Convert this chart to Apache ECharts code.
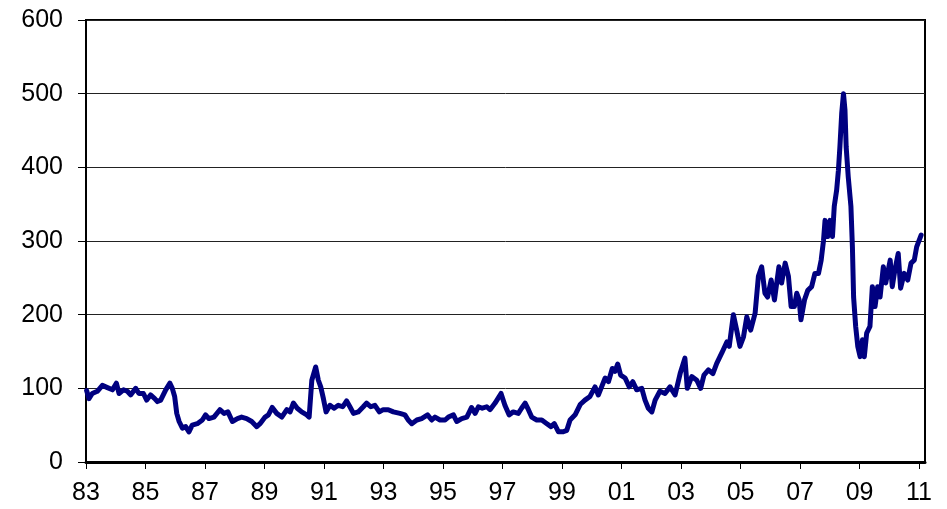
<!DOCTYPE html>
<html>
<head>
<meta charset="utf-8">
<script src="https://cdn.jsdelivr.net/npm/echarts@6/dist/echarts.min.js"></script>
<style>
html,body{margin:0;padding:0;background:#fff;}
#chart{width:947px;height:509px;}
</style>
</head>
<body>
<div id="chart"></div>
<script>
// x positions: years elapsed since the start of 1983
const yearsFrom1983 = [
0.02,0.10,0.21,0.38,0.55,0.72,0.89,1.02,1.11,1.26,1.39,1.50,1.67,1.78,1.93,2.04,2.17,2.31,2.40,2.51,2.68,2.82,2.90,2.98,3.05,3.13,3.24,3.35,3.46,3.57,3.74,3.91,4.02,4.13,4.30,4.50,4.64,4.77,4.92,5.09,
5.23,5.40,5.57,5.74,5.85,6.02,6.13,6.26,6.41,6.58,6.75,6.86,6.97,7.10,7.25,7.42,7.50,7.59,7.72,7.81,7.89,7.98,8.07,8.20,8.34,8.48,8.63,8.76,8.87,8.99,9.15,9.32,9.43,9.57,9.71,9.86,9.99,10.16,10.33,
10.55,10.72,10.83,10.95,11.12,11.28,11.48,11.62,11.73,11.90,12.07,12.18,12.35,12.46,12.63,12.80,12.96,13.08,13.19,13.32,13.47,13.58,13.75,13.95,14.08,14.22,14.36,14.53,14.64,14.76,14.87,14.98,15.15,15.32,15.49,15.63,15.74,15.88,16.04,16.16,16.27,16.44,
16.61,16.77,16.94,17.11,17.22,17.33,17.45,17.56,17.69,17.78,17.87,17.97,18.12,18.26,18.38,18.51,18.68,18.79,18.90,19.02,19.13,19.29,19.46,19.63,19.80,19.97,20.13,20.21,20.36,20.53,20.66,20.77,20.92,21.07,21.20,21.37,21.54,21.62,21.76,21.87,21.98,22.10,22.21,22.34,
22.49,22.60,22.71,22.82,22.91,23.03,23.14,23.29,23.38,23.50,23.61,23.70,23.81,23.89,23.97,24.03,24.15,24.26,24.39,24.50,24.62,24.71,24.79,24.84,24.93,25.01,25.09,25.15,25.23,25.29,25.34,25.40,25.46,25.51,25.55,25.62,25.71,25.76,25.80,25.87,25.94,26.02,26.10,26.16,26.24,26.35,26.43,26.52,26.61,26.69,26.80,26.88,27.03,27.10,27.19,27.30,27.38,27.50,27.62,27.73,27.84,27.92,28.07
];
const values = [
97,86,93,96,104,101,98,107,93,98,96,91,100,93,93,84,91,86,82,84,98,107,100,89,66,55,46,48,41,50,52,57,64,59,61,71,66,68,55,59,
61,59,55,48,52,61,64,74,66,61,71,68,80,73,68,64,61,111,129,111,102,86,68,77,73,77,75,83,75,66,68,75,80,75,77,68,71,71,68,
66,64,57,52,57,59,64,57,61,57,57,61,64,55,59,61,74,66,75,73,75,71,80,93,77,64,68,66,73,80,71,61,57,57,52,48,52,41,41,43,57,64,
78,84,89,102,91,102,114,109,127,123,133,118,114,102,109,98,100,84,73,68,84,96,93,102,91,120,141,100,116,111,100,118,125,120,134,148,163,157,200,179,157,170,197,179,
202,252,265,229,224,247,220,265,243,270,252,211,211,229,220,193,220,233,238,256,256,274,301,328,306,328,306,347,369,396,428,473,500,478,428,387,347,292,224,184,157,143,166,143,175,184,238,211,238,224,265,243,274,238,261,283,236,256,247,270,274,292,308
];
const xTickLabels = ['83','85','87','89','91','93','95','97','99','01','03','05','07','09','11'];
const yTickLabels = ['0','100','200','300','400','500','600'];

const chart = echarts.init(document.getElementById('chart'), null, {renderer: 'canvas'});
const seriesData = yearsFrom1983.map((t, i) => [t, values[i]]);
const font = 'Liberation Sans, Arial, sans-serif';

chart.setOption({
  animation: false,
  grid: {left: 86, right: 22, top: 20, bottom: 47, show: true, borderColor: '#000', borderWidth: 2, backgroundColor: '#fff'},
  xAxis: {
    type: 'value', min: 0, max: 28.2, interval: 2,
    axisLine: {show: true, lineStyle: {color: '#000', width: 3}},
    axisTick: {show: true, inside: false, length: 7, lineStyle: {color: '#000', width: 1}},
    splitLine: {show: false},
    axisLabel: {
      margin: 19, color: '#000', fontSize: 25, fontFamily: font, showMaxLabel: false,
      formatter: v => { const k = Math.round(v / 2); return Math.abs(v - 2 * k) < 1e-6 && xTickLabels[k] !== undefined ? xTickLabels[k] : ''; }
    }
  },
  yAxis: {
    type: 'value', min: 0, max: 600, interval: 100,
    axisLine: {show: true, lineStyle: {color: '#000', width: 2}},
    axisTick: {show: true, inside: false, length: 8, lineStyle: {color: '#000', width: 1}},
    splitLine: {show: true, lineStyle: {color: '#222', width: 1}},
    axisLabel: {
      margin: 23, color: '#000', fontSize: 25, fontFamily: font,
      formatter: v => { const k = Math.round(v / 100); return yTickLabels[k] !== undefined ? yTickLabels[k] : ''; }
    }
  },
  series: [{
    type: 'line', data: seriesData, showSymbol: false, symbol: 'none',
    lineStyle: {color: '#000080', width: 5, join: 'round', cap: 'round'},
    itemStyle: {color: '#000080'}
  }]
});
</script>
</body>
</html>
